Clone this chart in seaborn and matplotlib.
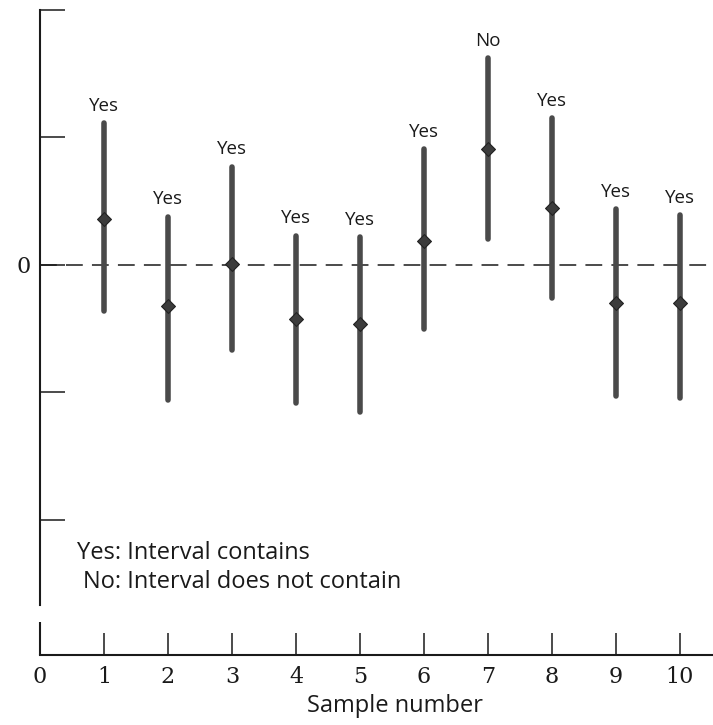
import matplotlib
matplotlib.use("Agg")
import matplotlib.pyplot as plt
import seaborn as sns
import pandas as pd
import numpy as np

# Ten confidence intervals for the mean, each drawn from a separate sample,
# expressed relative to the true mean (0).
sample = [1, 2, 3, 4, 5, 6, 7, 8, 9, 10]
center = [0.36, -0.32, 0.01, -0.42, -0.46, 0.19, 0.91, 0.45, -0.30, -0.30]
lower = [-0.36, -1.06, -0.67, -1.08, -1.15, -0.50, 0.20, -0.26, -1.03, -1.04]
upper = [1.11, 0.38, 0.77, 0.23, 0.22, 0.91, 1.62, 1.15, 0.44, 0.39]
verdict = ["Yes", "Yes", "Yes", "Yes", "Yes", "Yes", "No", "Yes", "Yes", "Yes"]
x_ticks = [0, 1, 2, 3, 4, 5, 6, 7, 8, 9, 10]
y_ticks = [-2, -1, 0, 1, 2]
y_ticklabels = ["", "", "0", "", ""]

df = pd.DataFrame({"sample": sample, "center": center,
                   "lower": lower, "upper": upper, "verdict": verdict})

sns.set_theme(style="white")
plt.rcParams["font.family"] = ["Open Sans", "DejaVu Sans"]

fig = plt.figure(figsize=(7.13, 7.25), dpi=100)
ax = fig.add_axes([0, 70 / 725, 1, 655 / 725])

x_lo, x_hi = -0.625, 10.516
y_lo, y_hi = -3.059, 2.078
ax.set_xlim(x_lo, x_hi)
ax.set_ylim(y_lo, y_hi)

ink = "#1a1a1a"

# true mean reference line
ax.hlines(0, 0, x_hi, colors=ink, linewidth=1.1, linestyles=(0, (11, 6)), zorder=1)

# interval bars
ax.vlines(df["sample"], df["lower"], df["upper"], colors="#4a4a4a",
          linewidth=4.0, zorder=2, capstyle="round")

# sample means
sns.scatterplot(data=df, x="sample", y="center", marker="D", s=50,
                color="#3c3c3c", edgecolor="#222222", linewidth=0.8,
                zorder=3, ax=ax, legend=False)

for _, r in df.iterrows():
    ax.annotate(r["verdict"], (r["sample"], r["upper"]), xytext=(0, 6),
                textcoords="offset points", ha="center", va="bottom",
                fontsize=13.5, color=ink)

# axes: broken vertical axis, bottom axis
for s in ["top", "right"]:
    ax.spines[s].set_visible(False)
ax.spines["left"].set_position(("data", 0))
ax.spines["left"].set_bounds(-2.667, 2.0)
ax.spines["bottom"].set_bounds(0, x_hi)
for s in ["left", "bottom"]:
    ax.spines[s].set_color(ink)
    ax.spines[s].set_linewidth(1.5)
ax.vlines(0, y_lo, -2.80, colors=ink, linewidth=1.5, clip_on=False)

ax.set_yticks(y_ticks)
ax.set_yticklabels(y_ticklabels)
ax.set_xticks(x_ticks)
ax.set_xticklabels([str(v) for v in x_ticks])
ax.tick_params(axis="y", direction="in", length=18, width=1.1, color=ink,
               left=True, pad=7, labelsize=16, labelcolor=ink)
ax.tick_params(axis="x", direction="in", length=16, width=1.1, color=ink,
               bottom=True, pad=8, labelsize=16, labelcolor=ink)
for lab in ax.get_xticklabels() + ax.get_yticklabels():
    lab.set_fontfamily(["DejaVu Serif"])

ax.set_xlabel("Sample number", fontsize=17, color=ink, va="top")
ax.xaxis.set_label_coords(395 / 713, -0.060)
ax.set_ylabel("")

ax.text(77 / 713, 0.156, "Yes: Interval contains", transform=ax.transAxes,
        ha="left", va="center", fontsize=17, color=ink)
ax.text(83 / 713, 0.111, "No: Interval does not contain", transform=ax.transAxes,
        ha="left", va="center", fontsize=17, color=ink)

fig.savefig("out.png", dpi=100)
